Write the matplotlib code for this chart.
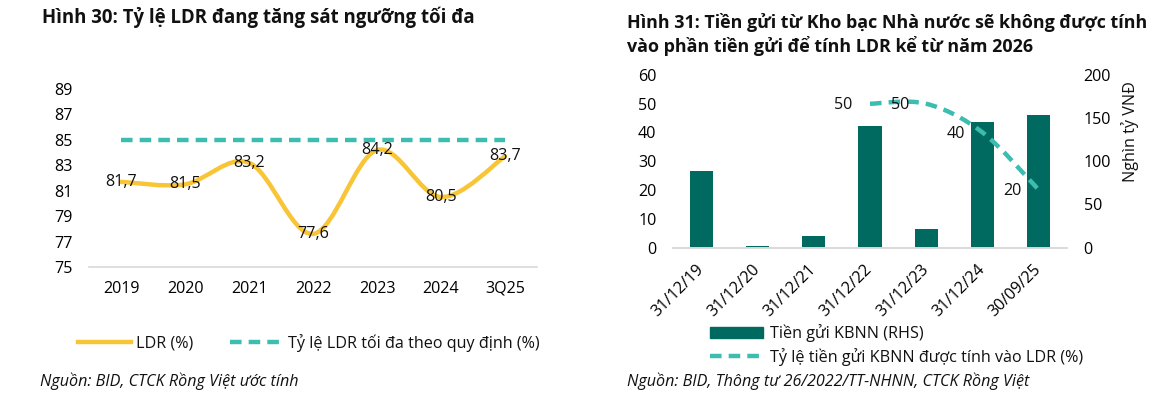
import numpy as np
import matplotlib
matplotlib.use("Agg")
import matplotlib.pyplot as plt
from matplotlib.path import Path
from matplotlib.patches import PathPatch
from matplotlib.lines import Line2D
from matplotlib.patches import Patch

W, H = 1172, 397

# ---- data: Hinh 30
years = ["2019", "2020", "2021", "2022", "2023", "2024", "3Q25"]
ldr = [81.7, 81.5, 83.2, 77.6, 84.2, 80.5, 83.7]
ldr_max = [85, 85, 85, 85, 85, 85, 85]
ldr_labels = ["81,7", "81,5", "83,2", "77,6", "84,2", "80,5", "83,7"]

# ---- data: Hinh 31
dates = ["31/12/19", "31/12/20", "31/12/21", "31/12/22", "31/12/23", "31/12/24", "30/09/25"]
kbnn = [89, 1.5, 13, 141, 21, 145, 154]        # nghin ty VND (RHS)
ratio_idx = [3, 4, 5, 6]                        # points that carry the ratio
ratio = [50, 50, 40, 20]                        # % counted into LDR

YELLOW = "#F8C537"
TEAL = "#3DBDAF"
DARK = "#006A60"
GREY = "#D9D9D9"
TXT = "#111111"
FS = 11.6
DASH = (2.6, 1.6)

plt.rcParams["font.family"] = ["Open Sans", "DejaVu Sans"]
plt.rcParams["font.size"] = FS
plt.rcParams["text.color"] = TXT


def smooth_path(xs, ys):
    # excel-style smoothed line as a bezier path
    pts = list(zip(xs, ys))
    verts = [pts[0]]
    codes = [Path.MOVETO]
    n = len(pts)
    for i in range(n - 1):
        p0 = pts[i - 1] if i > 0 else pts[i]
        p1 = pts[i]
        p2 = pts[i + 1]
        p3 = pts[i + 2] if i + 2 < n else pts[i + 1]
        c1 = (p1[0] + (p2[0] - p0[0]) / 6, p1[1] + (p2[1] - p0[1]) / 6)
        c2 = (p2[0] - (p3[0] - p1[0]) / 6, p2[1] - (p3[1] - p1[1]) / 6)
        verts += [c1, c2, p2]
        codes += [Path.CURVE4] * 3
    return Path(verts, codes)


def fx(px):
    return px / W


def fy(py):
    return 1 - py / H


fig = plt.figure(figsize=(W / 100, H / 100), dpi=100)

# ================= left chart
ax = fig.add_axes([fx(89), fy(267), (537 - 89) / W, (267 - 89) / H])
x = np.arange(len(years))
ax.add_patch(PathPatch(smooth_path(x, ldr), fill=False, ec=YELLOW, lw=3.2,
                       capstyle="round", zorder=3))
ax.plot(x, ldr_max, color=TEAL, lw=3.2, dashes=DASH, zorder=2)
for xi, v, s in zip(x, ldr, ldr_labels):
    ax.text(xi, v, s, ha="center", va="center", fontsize=FS, zorder=4)
ax.set_xlim(-0.5, len(years) - 0.5)
ax.set_ylim(75, 89)
ax.set_yticks(np.arange(75, 90, 2))
ax.set_xticks(x)
ax.set_xticklabels(years)
ax.tick_params(length=0, labelsize=FS)
ax.tick_params(axis="y", pad=12)
ax.tick_params(axis="x", pad=10)
for sp in ["top", "right", "left"]:
    ax.spines[sp].set_visible(False)
ax.spines["bottom"].set_color(GREY)
ax.spines["bottom"].set_linewidth(1.2)

h1 = [Line2D([], [], color=YELLOW, lw=3.2),
      Line2D([], [], color=TEAL, lw=3.2, dashes=DASH)]
fig.legend(h1, ["LDR (%)", "Tỷ lệ LDR tối đa theo quy định (%)"],
           loc="center left", bbox_to_anchor=(fx(78), fy(343)), ncol=2,
           frameon=False, handlelength=3.3, handletextpad=0.3,
           columnspacing=2.3, borderpad=0, borderaxespad=0, fontsize=FS)

fig.text(fx(42), fy(17), "Hình 30: Tỷ lệ LDR đang tăng sát ngưỡng tối đa",
         fontsize=13.4, fontweight="bold", ha="left", va="center")
fig.text(fx(40), fy(381), "Nguồn: BID, CTCK Rồng Việt ước tính",
         fontsize=FS, style="italic", ha="left", va="center")

# ================= right chart
axr = fig.add_axes([fx(673), fy(247.5), (1067 - 673) / W, 172.5 / H])
ax2 = axr.twinx()
xd = np.arange(len(dates))
ax2.bar(xd, kbnn, width=0.41, color=DARK, zorder=2)
rx = [xd[i] for i in ratio_idx]
axr.add_patch(PathPatch(smooth_path(rx, ratio), fill=False, ec=TEAL, lw=3.2,
                        linestyle=(0, DASH), capstyle="butt"))
axr.set_zorder(ax2.get_zorder() + 1)
axr.patch.set_visible(False)
for xi, v in zip(rx, ratio):
    axr.annotate(str(v), (xi, v), xytext=(-12.5, -1), textcoords="offset points",
                 ha="right", va="center", fontsize=FS)
axr.set_xlim(-0.5, len(dates) - 0.5)
axr.set_ylim(0, 60)
axr.set_yticks(np.arange(0, 61, 10))
ax2.set_ylim(0, 200)
ax2.set_yticks(np.arange(0, 201, 50))
axr.set_xticks(xd)
axr.set_xticklabels(dates, rotation=45, ha="right", va="center",
                    rotation_mode="anchor")
axr.tick_params(length=0, labelsize=FS)
axr.tick_params(axis="y", pad=12)
axr.tick_params(axis="x", pad=14)
ax2.tick_params(length=0, labelsize=FS, pad=12)
for a in (axr, ax2):
    for sp in ["top", "right", "left"]:
        a.spines[sp].set_visible(False)
    a.spines["bottom"].set_color(GREY)
    a.spines["bottom"].set_linewidth(1.2)
ax2.text((1130 - 673) / 394, (247.5 - 132) / 172.5, "Nghìn tỷ VNĐ",
         transform=ax2.transAxes, rotation=90, ha="center", va="center",
         fontsize=FS)

h2 = [Patch(color=DARK), Line2D([], [], color=TEAL, lw=3.2, dashes=DASH)]
fig.legend(h2, ["Tiền gửi KBNN (RHS)", "Tỷ lệ tiền gửi KBNN được tính vào LDR (%)"],
           loc="upper left", bbox_to_anchor=(fx(710), fy(324)), ncol=1,
           frameon=False, handlelength=3.3, handletextpad=0.4,
           labelspacing=0.35, borderpad=0, borderaxespad=0, fontsize=FS)

fig.text(fx(627), fy(22), "Hình 31: Tiền gửi từ Kho bạc Nhà nước sẽ không được tính",
         fontsize=12.9, fontweight="bold", ha="left", va="center")
fig.text(fx(627), fy(46), "vào phần tiền gửi để tính LDR kể từ năm 2026",
         fontsize=12.9, fontweight="bold", ha="left", va="center")
fig.text(fx(627), fy(381), "Nguồn: BID, Thông tư 26/2022/TT-NHNN, CTCK Rồng Việt",
         fontsize=FS, style="italic", ha="left", va="center")

fig.savefig("out.png", dpi=100, facecolor="white")
